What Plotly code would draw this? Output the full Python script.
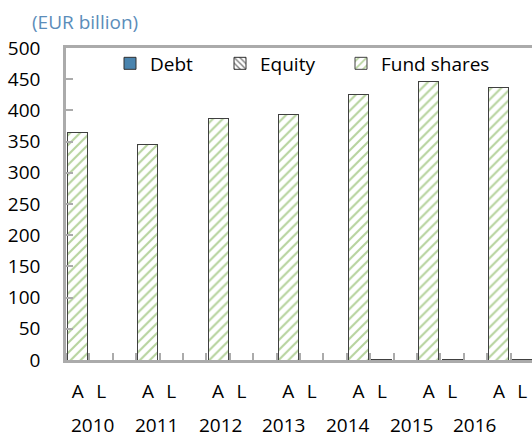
import plotly.graph_objects as go

years = ["2010", "2011", "2012", "2013", "2014", "2015", "2016"]
sides = ["A", "L"]

# EUR billion, assets (A) and liabilities (L)
debt_a = [0, 0, 0, 0, 0, 0, 0]
debt_l = [0, 0, 0, 0, 0, 0, 0]
equity_a = [0, 0, 0, 0, 0, 0, 0]
equity_l = [0, 0, 0, 0, 1.5, 1.5, 1.5]
fund_a = [364, 345, 387, 393, 425, 446, 437]
fund_l = [0, 0, 0, 0, 0, 0, 0]

W, H = 532, 437
FONT = "Open Sans"
FS = 19
AXIS_GREY = "#ABABAB"

# each year takes three slots: A, L, empty
xpos = []
ticktext = []
for i in range(len(years)):
    for j, s in enumerate(sides):
        xpos.append(3 * i + j)
        ticktext.append(s)


def pair(a, l):
    out = []
    for va, vl in zip(a, l):
        out += [va, vl]
    return out


fig = go.Figure()
fig.add_trace(go.Bar(
    x=xpos, y=pair(debt_a, debt_l), name="Debt", legend="legend",
    showlegend=True,
    marker=dict(color="#4A84AE", line=dict(color="#303030", width=1)),
))
fig.add_trace(go.Bar(
    x=xpos, y=pair(equity_a, equity_l), name="Equity", legend="legend2",
    showlegend=True,
    marker=dict(color="white", line=dict(color="#303030", width=1),
                pattern=dict(shape="\\", fgcolor="black", bgcolor="white",
                             size=5, solidity=0.35)),
))
fig.add_trace(go.Bar(
    x=xpos, y=pair(fund_a, fund_l), name="Fund shares", legend="legend3",
    showlegend=True,
    marker=dict(color="white", line=dict(color="#404040", width=1),
                pattern=dict(shape="/", fgcolor="#6FA83E", bgcolor="white",
                             size=7, solidity=0.3)),
))

ml, mt, mb = 66, 47.5, 77
cat_w = 23.4
x_right = -0.5 + (W - ml) / cat_w
ph = H - mt - mb

leg_common = dict(orientation="h", xanchor="left", yanchor="middle",
                  y=(H - mb - 63) / ph,
                  bgcolor="rgba(0,0,0,0)", font=dict(family=FONT, size=FS, color="black"))

annotations = [dict(
    text="(EUR billion)", xref="paper", yref="paper",
    x=(30 - ml) / (W - ml), y=(H - mb - 21) / ph,
    xanchor="left", yanchor="middle", showarrow=False,
    font=dict(family=FONT, size=FS, color="#5B8DBA"),
)]
for i, yr in enumerate(years):
    annotations.append(dict(
        text=yr, xref="x", yref="paper", x=0.65 + 2.72 * i,
        y=-(425 - (H - mb)) / ph,
        xanchor="center", yanchor="middle", showarrow=False,
        font=dict(family=FONT, size=FS, color="black"),
    ))

fig.update_layout(
    width=W, height=H, showlegend=True,
    margin=dict(l=ml, r=0, t=mt, b=mb, pad=0, autoexpand=False),
    barmode="stack", bargap=0.145,
    plot_bgcolor="white", paper_bgcolor="white",
    font=dict(family=FONT, size=FS, color="black"),
    legend=dict(leg_common, x=(110 - ml) / (W - ml)),
    legend2=dict(leg_common, x=(220 - ml) / (W - ml)),
    legend3=dict(leg_common, x=(341 - ml) / (W - ml)),
    annotations=annotations,
    xaxis=dict(
        range=[-0.5, x_right], tickvals=xpos, ticktext=ticktext,
        ticks="", showgrid=False, zeroline=False, automargin=False,
        showline=True, linecolor=AXIS_GREY, linewidth=2.5, mirror=True,
        ticklabelstandoff=12,
        minor=dict(tick0=-0.5, dtick=1, ticks="inside", ticklen=7,
                   tickwidth=2, tickcolor=AXIS_GREY, showgrid=False),
    ),
    yaxis=dict(
        range=[0, 500], tickvals=list(range(0, 501, 50)),
        ticks="inside", ticklen=7, tickwidth=2, tickcolor=AXIS_GREY,
        showgrid=False, zeroline=False, automargin=False,
        showline=True, linecolor=AXIS_GREY, linewidth=2.5,
        ticklabelstandoff=19,
    ),
)

# the page body has a default 8px margin; drop it so the figure sits at 0,0
fig.write_html("out.html", config={"displayModeBar": False},
               post_script="document.body.style.margin='0';")
